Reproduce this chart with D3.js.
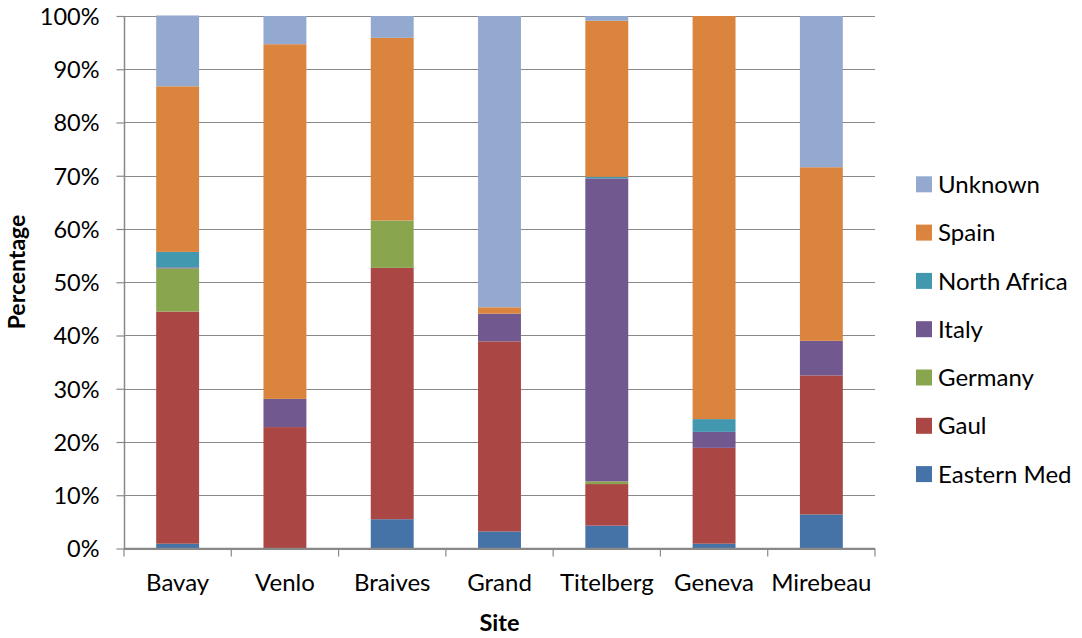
<!DOCTYPE html>
<html>
<head>
<meta charset="utf-8">
<script src="https://cdn.jsdelivr.net/npm/d3@7"></script>
<style>
  html, body { margin: 0; padding: 0; background: #fff; }
  svg { display: block; font-family: Lato, "Open Sans", sans-serif; }
</style>
</head>
<body>
<svg id="chart" width="1082" height="638"></svg>
<script>
const sites = ["Bavay", "Venlo", "Braives", "Grand", "Titelberg", "Geneva", "Mirebeau"];
const seriesNames = ["Eastern Med", "Gaul", "Germany", "Italy", "North Africa", "Spain", "Unknown"];
const easternMed  = [0.9, 0.0, 5.5, 3.2, 4.3, 0.9, 6.4];
const gaul        = [43.6, 22.8, 47.2, 35.7, 7.8, 18.0, 26.1];
const germany     = [8.1, 0.0, 8.9, 0.0, 0.5, 0.0, 0.0];
const italy       = [0.2, 5.3, 0.0, 5.2, 56.9, 3.0, 6.5];
const northAfrica = [2.9, 0.0, 0.0, 0.0, 0.3, 2.4, 0.0];
const spain       = [31.1, 66.6, 34.3, 1.2, 29.3, 75.7, 32.6];
const unknown     = [13.3, 5.3, 4.1, 54.7, 0.9, 0.0, 28.4];
const yTicks = [0, 10, 20, 30, 40, 50, 60, 70, 80, 90, 100];
const colors = ["#4572A7", "#AA4643", "#89A54E", "#71588F", "#4198AF", "#DB843D", "#93A9CF"];

(function () {
const seriesValues = [easternMed, gaul, germany, italy, northAfrica, spain, unknown];
const table = sites.map((s, i) => {
  const row = { site: s };
  seriesNames.forEach((n, k) => { row[n] = seriesValues[k][i]; });
  return row;
});

const svg = d3.select("#chart");
const pLeft = 124, pRight = 875, pTop = 16, pBottom = 548.5;

const x = d3.scaleBand().domain(sites).range([pLeft, pRight]).paddingInner(0.6).paddingOuter(0.3);
const y = d3.scaleLinear().domain([0, 100]).range([pBottom, pTop]);

const gridColor = "#898989";

svg.append("g").selectAll("line").data(yTicks).join("line")
  .attr("x1", pLeft).attr("x2", pRight)
  .attr("y1", d => Math.round(y(d)) + 0.5).attr("y2", d => Math.round(y(d)) + 0.5)
  .attr("stroke", gridColor).attr("stroke-width", 1.2);

const stacked = d3.stack().keys(seriesNames)(table);
svg.append("g").selectAll("g").data(stacked).join("g")
  .attr("fill", (d, i) => colors[i])
  .selectAll("rect").data(d => d).join("rect")
  .attr("x", d => x(d.data.site))
  .attr("width", x.bandwidth())
  .attr("y", d => y(d[1]))
  .attr("height", d => Math.max(0, y(d[0]) - y(d[1])));

const yAxis = d3.axisLeft(y).tickValues(yTicks).tickSize(8).tickFormat(d => d + "%").tickPadding(17);
const gy = svg.append("g").attr("transform", `translate(${pLeft + 0.5},0)`).call(yAxis);
gy.select(".domain").attr("stroke", gridColor).attr("stroke-width", 1.5).attr("d", `M0,${pTop}V${pBottom}`);
gy.selectAll(".tick line").attr("stroke", gridColor).attr("stroke-width", 1.2);
gy.selectAll(".tick text").attr("font-size", 23.5).attr("fill", "#000").attr("font-family", "Lato").attr("dy", "0.36em");

const gx = svg.append("g").attr("transform", `translate(0,${pBottom})`);
gx.append("line").attr("x1", pLeft).attr("x2", pRight).attr("y1", 0).attr("y2", 0)
  .attr("stroke", gridColor).attr("stroke-width", 1.5);
const boundaries = sites.map(s => x(s) - x.step() * x.paddingInner() / 2).concat([pRight]);
gx.selectAll("line.tk").data(boundaries).join("line").attr("class", "tk")
  .attr("x1", d => d).attr("x2", d => d).attr("y1", 0).attr("y2", 8)
  .attr("stroke", gridColor).attr("stroke-width", 1.2);
gx.selectAll("text").data(sites).join("text")
  .attr("x", d => x(d) + x.bandwidth() / 2).attr("y", 42.5)
  .attr("text-anchor", "middle").attr("font-size", 24).attr("fill", "#000")
  .text(d => d);

svg.append("text").attr("x", (pLeft + pRight) / 2).attr("y", 631)
  .attr("text-anchor", "middle").attr("font-size", 23.5).attr("font-weight", "bold").text("Site");
svg.append("text").attr("transform", "translate(24.5,272) rotate(-90)")
  .attr("text-anchor", "middle").attr("font-size", 23).attr("font-weight", "bold").text("Percentage");

const legendOrder = seriesNames.slice().reverse();
const lg = svg.append("g").selectAll("g").data(legendOrder).join("g")
  .attr("transform", (d, i) => `translate(916,${184.3 + i * 48.3})`);
lg.append("rect").attr("x", 0).attr("y", -8).attr("width", 16).attr("height", 16)
  .attr("fill", d => colors[seriesNames.indexOf(d)]);
lg.append("text").attr("x", 22).attr("y", 0).attr("dy", "0.36em")
  .attr("font-size", 24).attr("fill", "#000").text(d => d);
})();
</script>
</body>
</html>
